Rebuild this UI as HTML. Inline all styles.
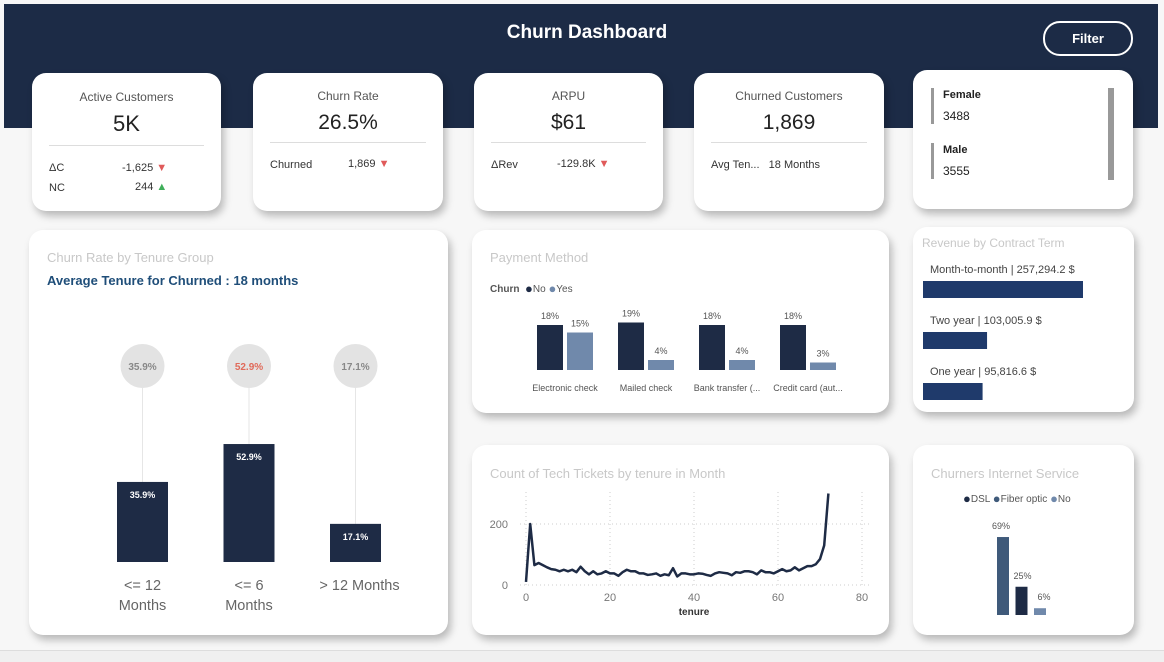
<!DOCTYPE html>
<html><head><meta charset="utf-8"><style>
body{margin:0;width:1164px;height:661px;background:#f7f7f7;font-family:"Liberation Sans",sans-serif;position:relative;overflow:hidden}
.abs{position:absolute}
.card{position:absolute;background:#fff;border-radius:14px;box-shadow:3px 5px 8px rgba(0,0,0,.25)}
.t{position:absolute;white-space:nowrap}
.ttl{color:#c8c8c8;font-size:13px}
.dot{font-size:13px;vertical-align:-1px}
</style></head><body>
<div class="abs" style="left:4px;top:4px;width:1154px;height:124px;background:#1c2b46"></div>
<div class="t" style="left:0;width:1174px;text-align:center;top:22px;color:#fff;font-weight:bold;font-size:19px">Churn Dashboard</div>
<div class="abs" style="left:1043px;top:21px;width:86px;height:31px;border:2px solid #fff;border-radius:17px;color:#fff;font-weight:bold;font-size:13px;text-align:center;line-height:31px">Filter</div>

<div class="card" style="left:32px;top:73px;width:189px;height:138px">
 <div class="t" style="left:0;width:189px;text-align:center;top:17px;font-size:12px;color:#555">Active Customers</div>
 <div class="t" style="left:0;width:189px;text-align:center;top:38px;font-size:22px;color:#222">5K</div>
 <div class="abs" style="left:17px;top:72px;width:155px;height:1px;background:#ddd"></div>
 <div class="t" style="left:17px;top:89px;font-size:11px;color:#333">ΔC</div>
 <div class="t" style="left:90px;top:89px;font-size:11px;color:#333">-1,625 <span style="color:#e05a5a">▼</span></div>
 <div class="t" style="left:17px;top:109px;font-size:11px;color:#333">NC</div>
 <div class="t" style="left:103px;top:108px;font-size:11px;color:#333">244 <span style="color:#3fae5a">▲</span></div>
</div>
<div class="card" style="left:253px;top:73px;width:190px;height:138px">
 <div class="t" style="left:0;width:190px;text-align:center;top:16px;font-size:12px;color:#555">Churn Rate</div>
 <div class="t" style="left:0;width:190px;text-align:center;top:38px;font-size:21px;color:#222">26.5%</div>
 <div class="abs" style="left:17px;top:69px;width:156px;height:1px;background:#ddd"></div>
 <div class="t" style="left:17px;top:86px;font-size:11px;color:#333">Churned</div>
 <div class="t" style="left:95px;top:85px;font-size:11px;color:#333">1,869 <span style="color:#e05a5a">▼</span></div>
</div>
<div class="card" style="left:474px;top:73px;width:189px;height:138px">
 <div class="t" style="left:0;width:189px;text-align:center;top:16px;font-size:12px;color:#555">ARPU</div>
 <div class="t" style="left:0;width:189px;text-align:center;top:38px;font-size:21px;color:#222">$61</div>
 <div class="abs" style="left:17px;top:69px;width:155px;height:1px;background:#ddd"></div>
 <div class="t" style="left:17px;top:86px;font-size:11px;color:#333">ΔRev</div>
 <div class="t" style="left:83px;top:85px;font-size:11px;color:#333">-129.8K <span style="color:#e05a5a">▼</span></div>
</div>
<div class="card" style="left:694px;top:73px;width:190px;height:138px">
 <div class="t" style="left:0;width:190px;text-align:center;top:16px;font-size:12px;color:#555">Churned Customers</div>
 <div class="t" style="left:0;width:190px;text-align:center;top:38px;font-size:21px;color:#222">1,869</div>
 <div class="abs" style="left:17px;top:69px;width:156px;height:1px;background:#ddd"></div>
 <div class="t" style="left:17px;top:86px;font-size:11px;color:#333">Avg Ten...&nbsp;&nbsp; 18 Months</div>
</div>
<div class="card" style="left:913px;top:70px;width:220px;height:139px">
 <div class="abs" style="left:18px;top:18px;width:3px;height:36px;background:#999"></div>
 <div class="t" style="left:30px;top:19px;font-size:11px;font-weight:bold;color:#222">Female</div>
 <div class="t" style="left:30px;top:39px;font-size:12px;color:#222">3488</div>
 <div class="abs" style="left:18px;top:73px;width:3px;height:36px;background:#999"></div>
 <div class="t" style="left:30px;top:74px;font-size:11px;font-weight:bold;color:#222">Male</div>
 <div class="t" style="left:30px;top:94px;font-size:12px;color:#222">3555</div>
 <div class="abs" style="left:195px;top:18px;width:6px;height:92px;background:#999"></div>
</div>

<div class="card" style="left:29px;top:230px;width:419px;height:405px">
 <div class="t ttl" style="left:18px;top:20px">Churn Rate by Tenure Group</div>
 <div class="t" style="left:18px;top:43px;font-size:13px;font-weight:bold;color:#1f4e79">Average Tenure for Churned : 18 months</div>
</div>

<div class="card" style="left:472px;top:230px;width:417px;height:183px">
 <div class="t ttl" style="left:18px;top:20px">Payment Method</div>
 <div class="t" style="left:18px;top:51px;font-size:10px;color:#555"><b>Churn</b>&nbsp; <span class="dot" style="color:#1e2b45">●</span>No <span class="dot" style="color:#7089ab">●</span>Yes</div>
</div>
<div class="card" style="left:913px;top:227px;width:221px;height:185px">
 <div class="t ttl" style="left:9px;top:9px;font-size:12px">Revenue by Contract Term</div>
</div>
<div class="card" style="left:472px;top:445px;width:417px;height:190px">
 <div class="t ttl" style="left:18px;top:21px">Count of Tech Tickets by tenure in Month</div>
</div>
<div class="card" style="left:913px;top:445px;width:221px;height:190px">
 <div class="t ttl" style="left:18px;top:21px">Churners Internet Service</div>
 <div class="t" style="left:50px;top:46px;font-size:10px;color:#555"><span class="dot" style="color:#1e2b45">●</span>DSL <span class="dot" style="color:#3f5a7a">●</span>Fiber optic <span class="dot" style="color:#7089ab">●</span>No</div>
</div>
<div class="abs" style="left:0;top:650px;width:1164px;height:11px;background:#f0f0f0;border-top:1px solid #ddd"></div>
<svg class="abs" id="chartSvg" style="left:0;top:0" width="1164" height="661"></svg>

<script>
const NS="http://www.w3.org/2000/svg";
const tenureGroups=["<= 12|Months","<= 6|Months","> 12 Months"];
const tenureRates=[35.9,52.9,17.1];
const payCats=["Electronic check","Mailed check","Bank transfer (...","Credit card (aut..."];
const payNo=[18,19,18,18];
const payYes=[15,4,4,3];
const contracts=["Month-to-month","Two year","One year"];
const revenue=[257294.2,103005.9,95816.6];
const netCats=["Fiber optic","DSL","No"];
const netVals=[69,25,6];
const techX=[0,1,2,3,4,5,6,7,8,9,10,11,12,13,14,15,16,17,18,19,20,21,22,23,24,25,26,27,28,29,30,31,32,33,34,35,36,37,38,39,40,41,42,43,44,45,46,47,48,49,50,51,52,53,54,55,56,57,58,59,60,61,62,63,64,65,66,67,68,69,70,71,72];
const techY=[10,200,65,72,65,58,52,50,45,50,45,50,42,60,45,35,45,35,38,45,38,38,30,42,50,45,45,38,38,33,35,38,30,35,32,55,28,38,38,35,35,38,37,33,30,38,42,40,38,32,42,40,45,45,42,35,48,42,42,38,45,52,45,48,58,48,55,62,62,68,85,130,300];
const xTicks=[0,20,40,60,80];
const yTicks=[0,200];

const svg=document.getElementById('chartSvg');
function el(tag,attrs,txt){const e=document.createElementNS(NS,tag);for(const k in attrs)e.setAttribute(k,attrs[k]);if(txt!==undefined)e.textContent=txt;svg.appendChild(e);return e;}

const tb=562,tScale=2.23;
const tX=i=>117+i*106.5;
tenureGroups.forEach((g,i)=>{
 const cx=tX(i)+25.5, v=tenureRates[i], top=tb-v*tScale;
 const ln=el('line',{x1:cx,x2:cx,y1:388,y2:top,stroke:'#e6e6e6'});
 
 
 const c=el('circle',{cx:cx,cy:366,r:22,fill:'#e3e3e3'});
 
 
 const ct=el('text',{x:cx,y:370,'text-anchor':'middle','font-size':10,'font-weight':'bold',fill:i==1?'#e06a5a':'#888'},v.toFixed(1)+'%');
 
 
 const r=el('rect',{x:tX(i),y:top,width:51,height:v*tScale,fill:'#1e2b45'});
 
 
 const bt=el('text',{x:cx,y:top+16,'text-anchor':'middle','font-size':9,'font-weight':'bold',fill:'#fff'},v.toFixed(1)+'%');
 
 
 g.split('|').forEach((p,j)=>{
  const t=el('text',{x:cx+(i==2?4:0),y:590+j*20,'text-anchor':'middle','font-size':14.5,fill:'#666'},p);
  
  
 });
});

const pb=370,pScale=2.5;
payCats.forEach((c,i)=>{
 const x0=537+i*81;
 [[payNo[i],'#1e2b45',0],[payYes[i],'#7089ab',30]].forEach(([v,col,off])=>{
  const r=el('rect',{x:x0+off,y:pb-v*pScale,width:26,height:v*pScale,fill:col});
  
  
  const t=el('text',{x:x0+off+13,y:pb-v*pScale-6,'text-anchor':'middle','font-size':9,fill:'#555'},v+'%');
  
  
 });
 const t=el('text',{x:x0+28,y:391,'text-anchor':'middle','font-size':9,fill:'#555'},c);
 
 
});

const rScale=160/257294.2;
contracts.forEach((c,i)=>{
 const y=281+i*51;
 const t=el('text',{x:930,y:y-8,'font-size':11,fill:'#444'},c+' | '+revenue[i].toLocaleString('en-US',{minimumFractionDigits:1,maximumFractionDigits:1})+' $');
 
 
 const r=el('rect',{x:923,y:y,width:revenue[i]*rScale,height:17,fill:'#1f3a6b'});
 
 
});

const nb=615,nScale=1.13,nCols=['#3f5a7a','#1e2b45','#7089ab'];
netCats.forEach((c,i)=>{
 const x=997+i*18.5,v=netVals[i];
 const r=el('rect',{x:x,y:nb-v*nScale,width:12,height:v*nScale,fill:nCols[i]});
 
 
 const t=el('text',{x:x+i*3+4,y:nb-v*nScale-8,'text-anchor':'middle','font-size':9,fill:'#555'},v+'%');
 
 
});

const lx=v=>526+v*4.2, ly=v=>585-v*0.305;
xTicks.forEach(v=>{
 const g=el('line',{x1:lx(v),x2:lx(v),y1:492,y2:585,stroke:'#ccc','stroke-dasharray':'1 3'});
 
 
 const t=el('text',{x:lx(v),y:601,'text-anchor':'middle','font-size':11,fill:'#777'},v);
 
 
});
yTicks.forEach(v=>{
 const g=el('line',{x1:520,x2:870,y1:ly(v),y2:ly(v),stroke:'#ccc','stroke-dasharray':'1 3'});
 
 
 const t=el('text',{x:508,y:ly(v)+4,'text-anchor':'end','font-size':11,fill:'#777'},v);
 
 
});
const xt=el('text',{x:694,y:615,'text-anchor':'middle','font-size':10,'font-weight':'bold',fill:'#333'},'tenure');


const pl=el('polyline',{points:techX.map((x,i)=>lx(x)+','+ly(techY[i])).join(' '),fill:'none',stroke:'#1e2b45','stroke-width':2.5,'stroke-linejoin':'round'});


</script>
</body></html>
